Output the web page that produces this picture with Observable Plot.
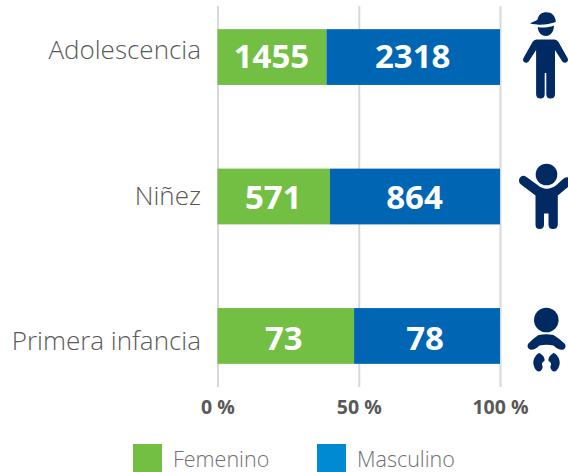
<!DOCTYPE html>
<html>
<head>
<meta charset="utf-8">
<script src="https://cdn.jsdelivr.net/npm/d3@7"></script>
<script src="https://cdn.jsdelivr.net/npm/@observablehq/plot@0.6"></script>
<style>
  html, body { margin: 0; padding: 0; background: #fff; }
  #chart svg { display: block; }
  #legend { position: relative; height: 28px; font-family: "Open Sans", sans-serif; font-size: 21.5px; color: #707070; font-weight: 300; }
  #legend span { position: absolute; top: 0; }
  #legend .sw { width: 29px; height: 28px; }
  #legend .tx { line-height: 30px; }
</style>
</head>
<body>
<div id="chart"></div>
<div id="legend"></div>
<script>
const groups = ["Adolescencia", "Niñez", "Primera infancia"];
const femenino = [1455, 571, 73];
const masculino = [2318, 864, 78];
const seriesNames = ["Femenino", "Masculino"];
const seriesColors = ["#72bf44", "#0066b3"];
const legendColors = ["#72bf44", "#008ad2"];
const tickValues = [0, 0.5, 1];
const tickLabels = ["0 %", "50 %", "100 %"];
const navy = "#012a62";
const labelNudge = [-7, 0, 5];
const valueNudge = [0, 1, 3];
const valueShift = [-1, -1, -2.5];

const rows = groups.flatMap((g, i) => [
  {group: g, sex: seriesNames[0], value: femenino[i]},
  {group: g, sex: seriesNames[1], value: masculino[i]}
]);

const svgUri = (vb, body) => "data:image/svg+xml," + encodeURIComponent(
  `<svg xmlns="http://www.w3.org/2000/svg" viewBox="${vb}" width="68" height="100">${body}</svg>`);

const iconBoy = svgUri("500 6.5 68 100", `<g fill="${navy}" stroke="none">
  <path d="M529.3 23.3 C534 21.5 536 20.5 537 19.5 C538 14.5 541 12.3 546 12.3 C551 12.3 555 15.5 555.3 22 C548 24.5 538 26 529.3 23.3Z"/>
  <path d="M537.2 27 C542 28 548 27.5 553.4 25.5 C553.6 31.5 550 36 545.5 36 C540.5 36 537.5 32 537.2 27Z"/>
  <path d="M536 39.5 H554 Q556.5 39.5 558 42 L567 58 Q568.5 61.5 565.5 62.5 Q563 63.5 561.5 61 L554.5 50 V94 Q554.5 98.5 550 98.5 Q545.8 98.5 545.8 94 V73 H544.2 V94 Q544.2 98.5 540 98.5 Q535.6 98.5 535.6 94 V50 L528.5 61 Q527 63.5 524.5 62.5 Q521.5 61.5 523 58 L532 42 Q533.5 39.5 536 39.5Z"/>
  </g>`);

const iconChild = svgUri("500 145.5 68 100", `<g fill="${navy}">
  <path d="M535 228 V195 L520.5 184 Q517 181 519.5 177 Q522 174 526 176.5 L537 184.5 Q546 192 556 184.5 L562 179 Q565 176 568 177 V186 L557.3 195 V224 Q557 228.5 552.5 228.5 Q548 228.5 548 224 V213 H543.5 V224 Q543.5 228.5 539 228.5 Q535 228.5 535 224Z"/>
  <circle cx="546" cy="174" r="10.8"/>
  </g>`);

const iconBaby = svgUri("500 285.5 68 100", `<g fill="${navy}">
  <circle cx="545.8" cy="320" r="12.3"/>
  <path d="M538 335 Q546 333.5 553 335 Q558 338 564.5 344 Q566 347.5 563 349.5 Q559 351 553 345.5 Q546 344 539 345.5 Q533 351 529.5 349.5 Q526 347.5 527.5 344 Q533 338 538 335Z"/>
  <path d="M539 353 Q544.5 356 544 361 Q541 362.5 541.5 365 Q543 367 541 370 Q538.5 373 535.5 370 Q532 365.5 533 360.5 Q535 354 539 353Z"/>
  <path d="M553 353 Q547.5 356 548 361 Q551 362.5 550.5 365 Q549 367 551 370 Q553.5 373 556.5 370 Q560 365.5 559 360.5 Q557 354 553 353Z"/>
  </g>`);

const icons = [iconBoy, iconChild, iconBaby];
const iconRows = groups.map((g, i) => ({group: g, src: icons[i], pos: 1}));

const chart = Plot.plot({
  width: 568,
  height: 444,
  marginLeft: 217.5,
  marginRight: 68,
  marginTop: 6,
  marginBottom: 57,
  style: {fontFamily: '"Open Sans", sans-serif', background: "#fff", overflow: "visible"},
  x: {domain: [0, 1], label: null, axis: null},
  y: {domain: groups, padding: 0.6, paddingOuter: 0.166, round: false, label: null, axis: null},
  color: {domain: seriesNames, range: seriesColors},
  marks: [
    Plot.ruleX(tickValues, {stroke: "#d8d8d8", strokeWidth: 2}),
    Plot.barX(rows, Plot.stackX({x: "value", y: "group", fill: "sex", offset: "normalize", order: null})),
    ...groups.map((g, i) => Plot.text(rows.filter(d => d.group === g), Plot.stackX({
      x: "value", y: "group", offset: "normalize", order: null, text: d => String(d.value),
      fill: "#fff", fontSize: 33, fontWeight: 700, dy: valueNudge[i], dx: valueShift[i]}))),
    Plot.image(iconRows, {x: "pos", y: "group", src: "src", width: 68, height: 100, dx: 34, dy: -1}),
    Plot.axisX({ticks: tickValues, tickFormat: d => tickLabels[tickValues.indexOf(d)], tickSize: 0, tickPadding: 13,
      fontSize: 19.5, fontWeight: 700, fill: "#595959", label: null}),
    ...groups.map((g, i) => Plot.text([g], {x: () => 0, y: d => d, text: d => d, textAnchor: "end", dx: -17, dy: labelNudge[i],
      fontSize: 26, fontWeight: 300, fill: "#595959"}))
  ]
});
document.getElementById("chart").appendChild(chart);

const legend = d3.select("#legend");
const swatchLeft = [133, 317], textLeft = [173, 357];
seriesNames.forEach((name, i) => {
  legend.append("span").attr("class", "sw").style("left", swatchLeft[i] + "px").style("background", legendColors[i]);
  legend.append("span").attr("class", "tx").style("left", textLeft[i] + "px").text(name);
});
</script>
</body>
</html>
